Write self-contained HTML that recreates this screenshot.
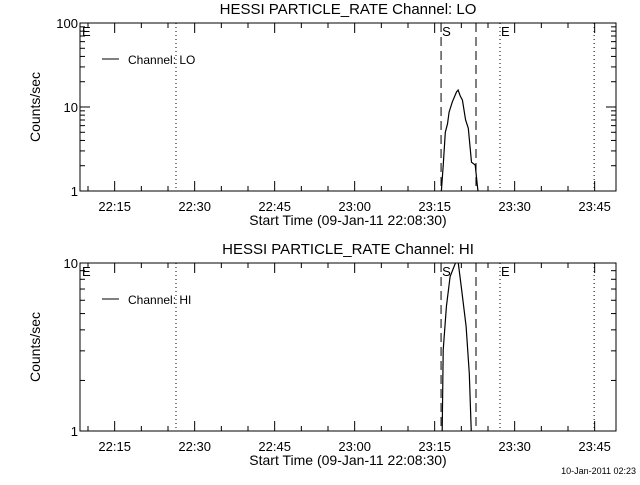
<!DOCTYPE html>
<html><head><meta charset="utf-8"><style>
body{margin:0;background:#fff;}
svg text{font-family:"Liberation Sans",sans-serif;fill:#000;}
</style></head><body>
<svg id="c" width="640" height="480" viewBox="0 0 640 480" xmlns="http://www.w3.org/2000/svg"></svg>
<script>
// minutes after 22:08:30
const loTimes = [59.2, 59.6, 60.0, 60.4, 60.7, 61.3, 62.1, 62.4, 62.8, 63.2, 63.8, 64.3, 64.9, 65.6, 66.0, 66.2];
const loValues = [0.9, 2.0, 5.0, 6.3, 8.7, 11.5, 15.1, 15.9, 13.5, 12.1, 7.0, 5.6, 2.2, 2.04, 1.18, 0.9];
const hiTimes = [67.9, 68.1, 68.7, 69.4, 70.5, 70.9, 71.5, 72.4, 73.0, 73.4];
const hiValues = [0.9, 3.03, 5.5, 8.3, 10.2, 10.2, 7.2, 4.2, 2.2, 0.9];
const xTickLabels = ["22:15","22:30","22:45","23:00","23:15","23:30","23:45"];
const xTickMinutes = [6.5, 21.5, 36.5, 51.5, 66.5, 81.5, 96.5];
const markerTimes = [18.0, 67.7, 74.25, 78.75, 96.4];
const markerStyles = ["dot","dash","dash","dot","dot"];
// shift hi series times (same axis)
const svg = document.getElementById('c');
const NS = "http://www.w3.org/2000/svg";
const X0 = 80, X1 = 616, PXMIN = 5.3333;
function xs(t){return X0 + t*PXMIN;}
function mk(tag, attrs, parent){const e=document.createElementNS(NS,tag);for(const k in attrs)e.setAttribute(k,attrs[k]);(parent||svg).appendChild(e);return e;}
function txt(s,x,y,anchor,parent,size){const e=mk('text',{x:x,y:y,'text-anchor':anchor||'start','font-size':size||13},parent);e.textContent=s;return e;}

function panel(id, top, bot, decades, times, values, title, chan, yTicks){
  const g = mk('g',{});
  
  
  const ys = v => bot - (bot-top)*Math.log10(v)/decades;
  const t = txt(title, 348, top-9, 'middle', g, 15);
  
  
  // clip
  const cp = mk('clipPath',{id:'clip'+id}, g);
  mk('rect',{x:X0,y:top,width:X1-X0,height:bot-top},cp);
  // frame
  const fr = mk('rect',{x:X0,y:top,width:X1-X0,height:bot-top,fill:'none',stroke:'#000','stroke-width':1},g);
  
  
  // x ticks every 5 min
  for(let m=1.5;m<=100.5;m+=5){
    const x=xs(m); const major = ((m-6.5)%15===0);
    const L = major?10:5;
    mk('line',{x1:x,y1:bot,x2:x,y2:bot-L,stroke:'#000'},g);
    mk('line',{x1:x,y1:top,x2:x,y2:top+L,stroke:'#000'},g);
  }
  xTickLabels.forEach((s,i)=>{const e=txt(s,xs(xTickMinutes[i]),bot+20,'middle',g,13);
    
    });
  const xl = txt('Start Time (09-Jan-11 22:08:30)', 348, bot+34, 'middle', g, 14);
  
  
  // y ticks
  for(let d=0; d<decades; d++){
    for(let k=1;k<=10;k++){
      const v=Math.pow(10,d)*k; const y=ys(v);
      const L=(k===1||k===10)?10:5;
      mk('line',{x1:X0,y1:y,x2:X0+L,y2:y,stroke:'#000'},g);
      mk('line',{x1:X1,y1:y,x2:X1-L,y2:y,stroke:'#000'},g);
    }
  }
  yTicks.forEach(v=>{const e=txt(String(v),X0-2,ys(v)+5,'end',g,13);
    
    });
  const yl = mk('text',{x:0,y:0,'font-size':14,'text-anchor':'middle',transform:`translate(40,${(top+bot)/2}) rotate(-90)`},g);
  yl.textContent='Counts/sec';
  
  
  // markers
  markerTimes.forEach((tm,i)=>{const l=mk('line',{x1:xs(tm),y1:top,x2:xs(tm),y2:bot,stroke:'#000','stroke-dasharray':markerStyles[i]==='dot'?'1,3':'9,5'},g);
    
    });
  txt('E', X0+2, top+13, 'start', g, 13);
  txt('S', xs(markerTimes[1])+1, top+13, 'start', g, 13);
  txt('E', xs(markerTimes[3])+1, top+13, 'start', g, 13);
  // legend
  const lg = mk('g',{},g);
  
  
  mk('line',{x1:102,y1:top+36,x2:119,y2:top+36,stroke:'#000'},lg);
  txt('Channel: '+chan, 128, top+41, 'start', lg, 12);
  // series
  const pts = times.map((tm,i)=>xs(tm).toFixed(1)+','+ys(values[i]).toFixed(1)).join(' ');
  const pl = mk('polyline',{points:pts,fill:'none',stroke:'#000','stroke-width':1.2,'clip-path':`url(#clip${id})`},g);
  
  
}
panel('lo', 23, 191, 2, loTimes.map(t=>t+8.5), loValues, 'HESSI PARTICLE_RATE Channel: LO', 'LO', [1,10,100]);
panel('hi', 263, 431, 1, hiTimes, hiValues, 'HESSI PARTICLE_RATE Channel: HI', 'HI', [1,10]);
const ft = txt('10-Jan-2011 02:23', 636, 474, 'end', svg, 9);


</script>
</body></html>
